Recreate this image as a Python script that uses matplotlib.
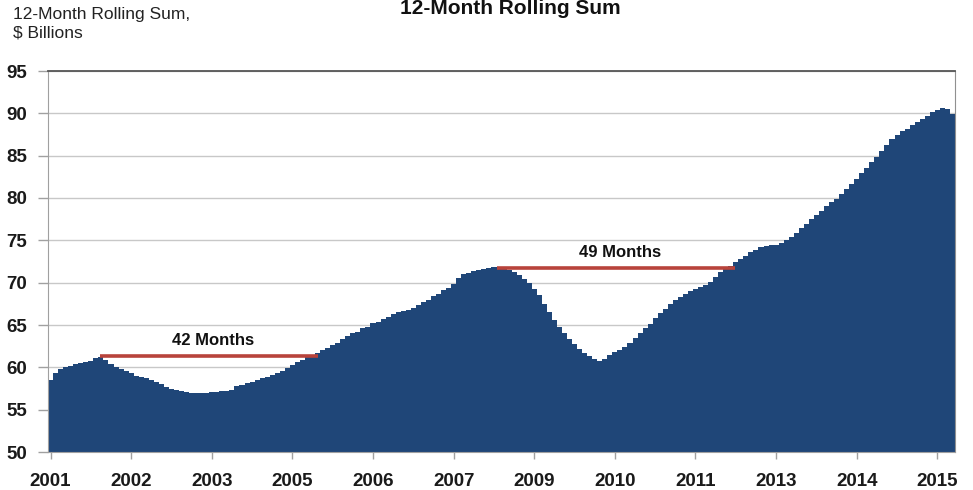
import numpy as np
import matplotlib.pyplot as plt

plt.rcParams['font.family'] = ['Liberation Sans', 'DejaVu Sans']

# monthly 12-month rolling sum, $ billions, Jan 2001 - Dec 2015
y2001 = [58.5, 59.3, 59.8, 60.0, 60.2, 60.4, 60.5, 60.6, 60.8, 61.1, 61.2, 60.9]
y2002 = [60.4, 60.0, 59.8, 59.6, 59.3, 59.0, 58.9, 58.7, 58.5, 58.3, 58.0, 57.7]
y2003 = [57.5, 57.3, 57.2, 57.1, 57.0, 57.0, 57.0, 57.0, 57.1, 57.1, 57.2, 57.2]
y2004 = [57.3, 57.8, 57.9, 58.1, 58.3, 58.5, 58.7, 58.9, 59.1, 59.3, 59.6, 59.9]
y2005 = [60.3, 60.6, 60.9, 61.3, 61.5, 61.7, 62.0, 62.3, 62.6, 62.9, 63.4, 63.7]
y2006 = [64.0, 64.2, 64.6, 64.8, 65.2, 65.4, 65.7, 65.9, 66.3, 66.5, 66.6, 66.8]
y2007 = [67.0, 67.4, 67.7, 68.0, 68.4, 68.7, 69.1, 69.4, 69.8, 70.6, 71.0, 71.2]
y2008 = [71.4, 71.5, 71.6, 71.7, 71.8, 71.8, 71.7, 71.5, 71.3, 70.9, 70.4, 70.0]
y2009 = [69.3, 68.5, 67.5, 66.5, 65.6, 64.8, 64.0, 63.4, 62.7, 62.2, 61.7, 61.3]
y2010 = [61.0, 60.8, 61.0, 61.4, 61.8, 62.0, 62.4, 62.9, 63.5, 64.0, 64.6, 65.1]
y2011 = [65.8, 66.4, 66.9, 67.5, 67.9, 68.3, 68.7, 69.0, 69.2, 69.5, 69.7, 70.1]
y2012 = [70.7, 71.3, 71.7, 72.0, 72.5, 72.8, 73.2, 73.6, 73.9, 74.2, 74.3, 74.4]
y2013 = [74.5, 74.7, 75.0, 75.4, 75.9, 76.4, 76.9, 77.5, 78.0, 78.5, 79.0, 79.5]
y2014 = [79.9, 80.5, 81.1, 81.7, 82.3, 83.0, 83.6, 84.2, 84.9, 85.6, 86.3, 87.0]
y2015 = [87.5, 87.9, 88.2, 88.6, 89.0, 89.3, 89.7, 90.1, 90.4, 90.6, 90.5, 89.9]

values = np.array(y2001 + y2002 + y2003 + y2004 + y2005 + y2006 + y2007 + y2008
                  + y2009 + y2010 + y2011 + y2012 + y2013 + y2014 + y2015)
months = np.arange(len(values))

# category axis labelled every 16 months
tick_step = 16
tick_labels = ["2001", "2002", "2003", "2005", "2006", "2007",
               "2009", "2010", "2011", "2013", "2014", "2015"]

# recovery spans: start month, end month, level, label
span_starts = [9.8, 88.6]
span_ends = [53.0, 135.8]
span_levels = [61.3, 71.7]
span_labels = ["42 Months", "49 Months"]

fig = plt.figure(figsize=(9.73, 4.90), dpi=100)
ax = fig.add_axes([48 / 973, 1 - 452 / 490, 907 / 973, 381 / 490])

# solid stepped area: bars touch with no seams
ax.bar(months, values, width=1.0, color='#1f4678', linewidth=0,
       antialiased=False, zorder=2)

for s, e, lvl, lab in zip(span_starts, span_ends, span_levels, span_labels):
    ax.plot([s, e], [lvl, lvl], color='#b8433b', lw=2.6, zorder=3,
            solid_capstyle='butt')
    ax.text((s + e) / 2 + 0.8, lvl + 1.9, lab, ha='center', va='center',
            fontsize=12, fontweight='bold', color='#111111', zorder=4)

ax.set_xlim(-0.5, len(values) - 0.5)
ax.set_ylim(50, 95)
ax.set_yticks(np.arange(50, 96, 5))
ax.set_xticks(months[::tick_step])
ax.set_xticklabels(tick_labels)

ax.yaxis.grid(True, color='#c8c8c8', lw=1.0, zorder=0)
ax.set_axisbelow(True)

ax.tick_params(axis='y', length=7, width=1, color='#a0a0a0', pad=8,
               labelsize=13.5, labelcolor='#1a1a1a')
ax.tick_params(axis='x', length=5, width=1, color='#a0a0a0', pad=10,
               labelsize=13.5, labelcolor='#1a1a1a')
for lab in ax.get_xticklabels() + ax.get_yticklabels():
    lab.set_fontweight('bold')

ax.spines['left'].set_color('#a0a0a0')
ax.spines['bottom'].set_color('#a0a0a0')
ax.spines['right'].set_color('#909090')
ax.spines['top'].set_color('#555555')
ax.spines['top'].set_linewidth(1.3)

fig.text(0.524, 1 - 14 / 490, "12-Month Rolling Sum", ha='center',
         va='baseline', fontsize=15, fontweight='bold', color='#111111')
fig.text(13 / 973, 1 - 7 / 490, "12-Month Rolling Sum,\n\\$ Billions",
         ha='left', va='top', fontsize=12.5, color='#222222', linespacing=1.3)

fig.savefig('out.png', dpi=100)
